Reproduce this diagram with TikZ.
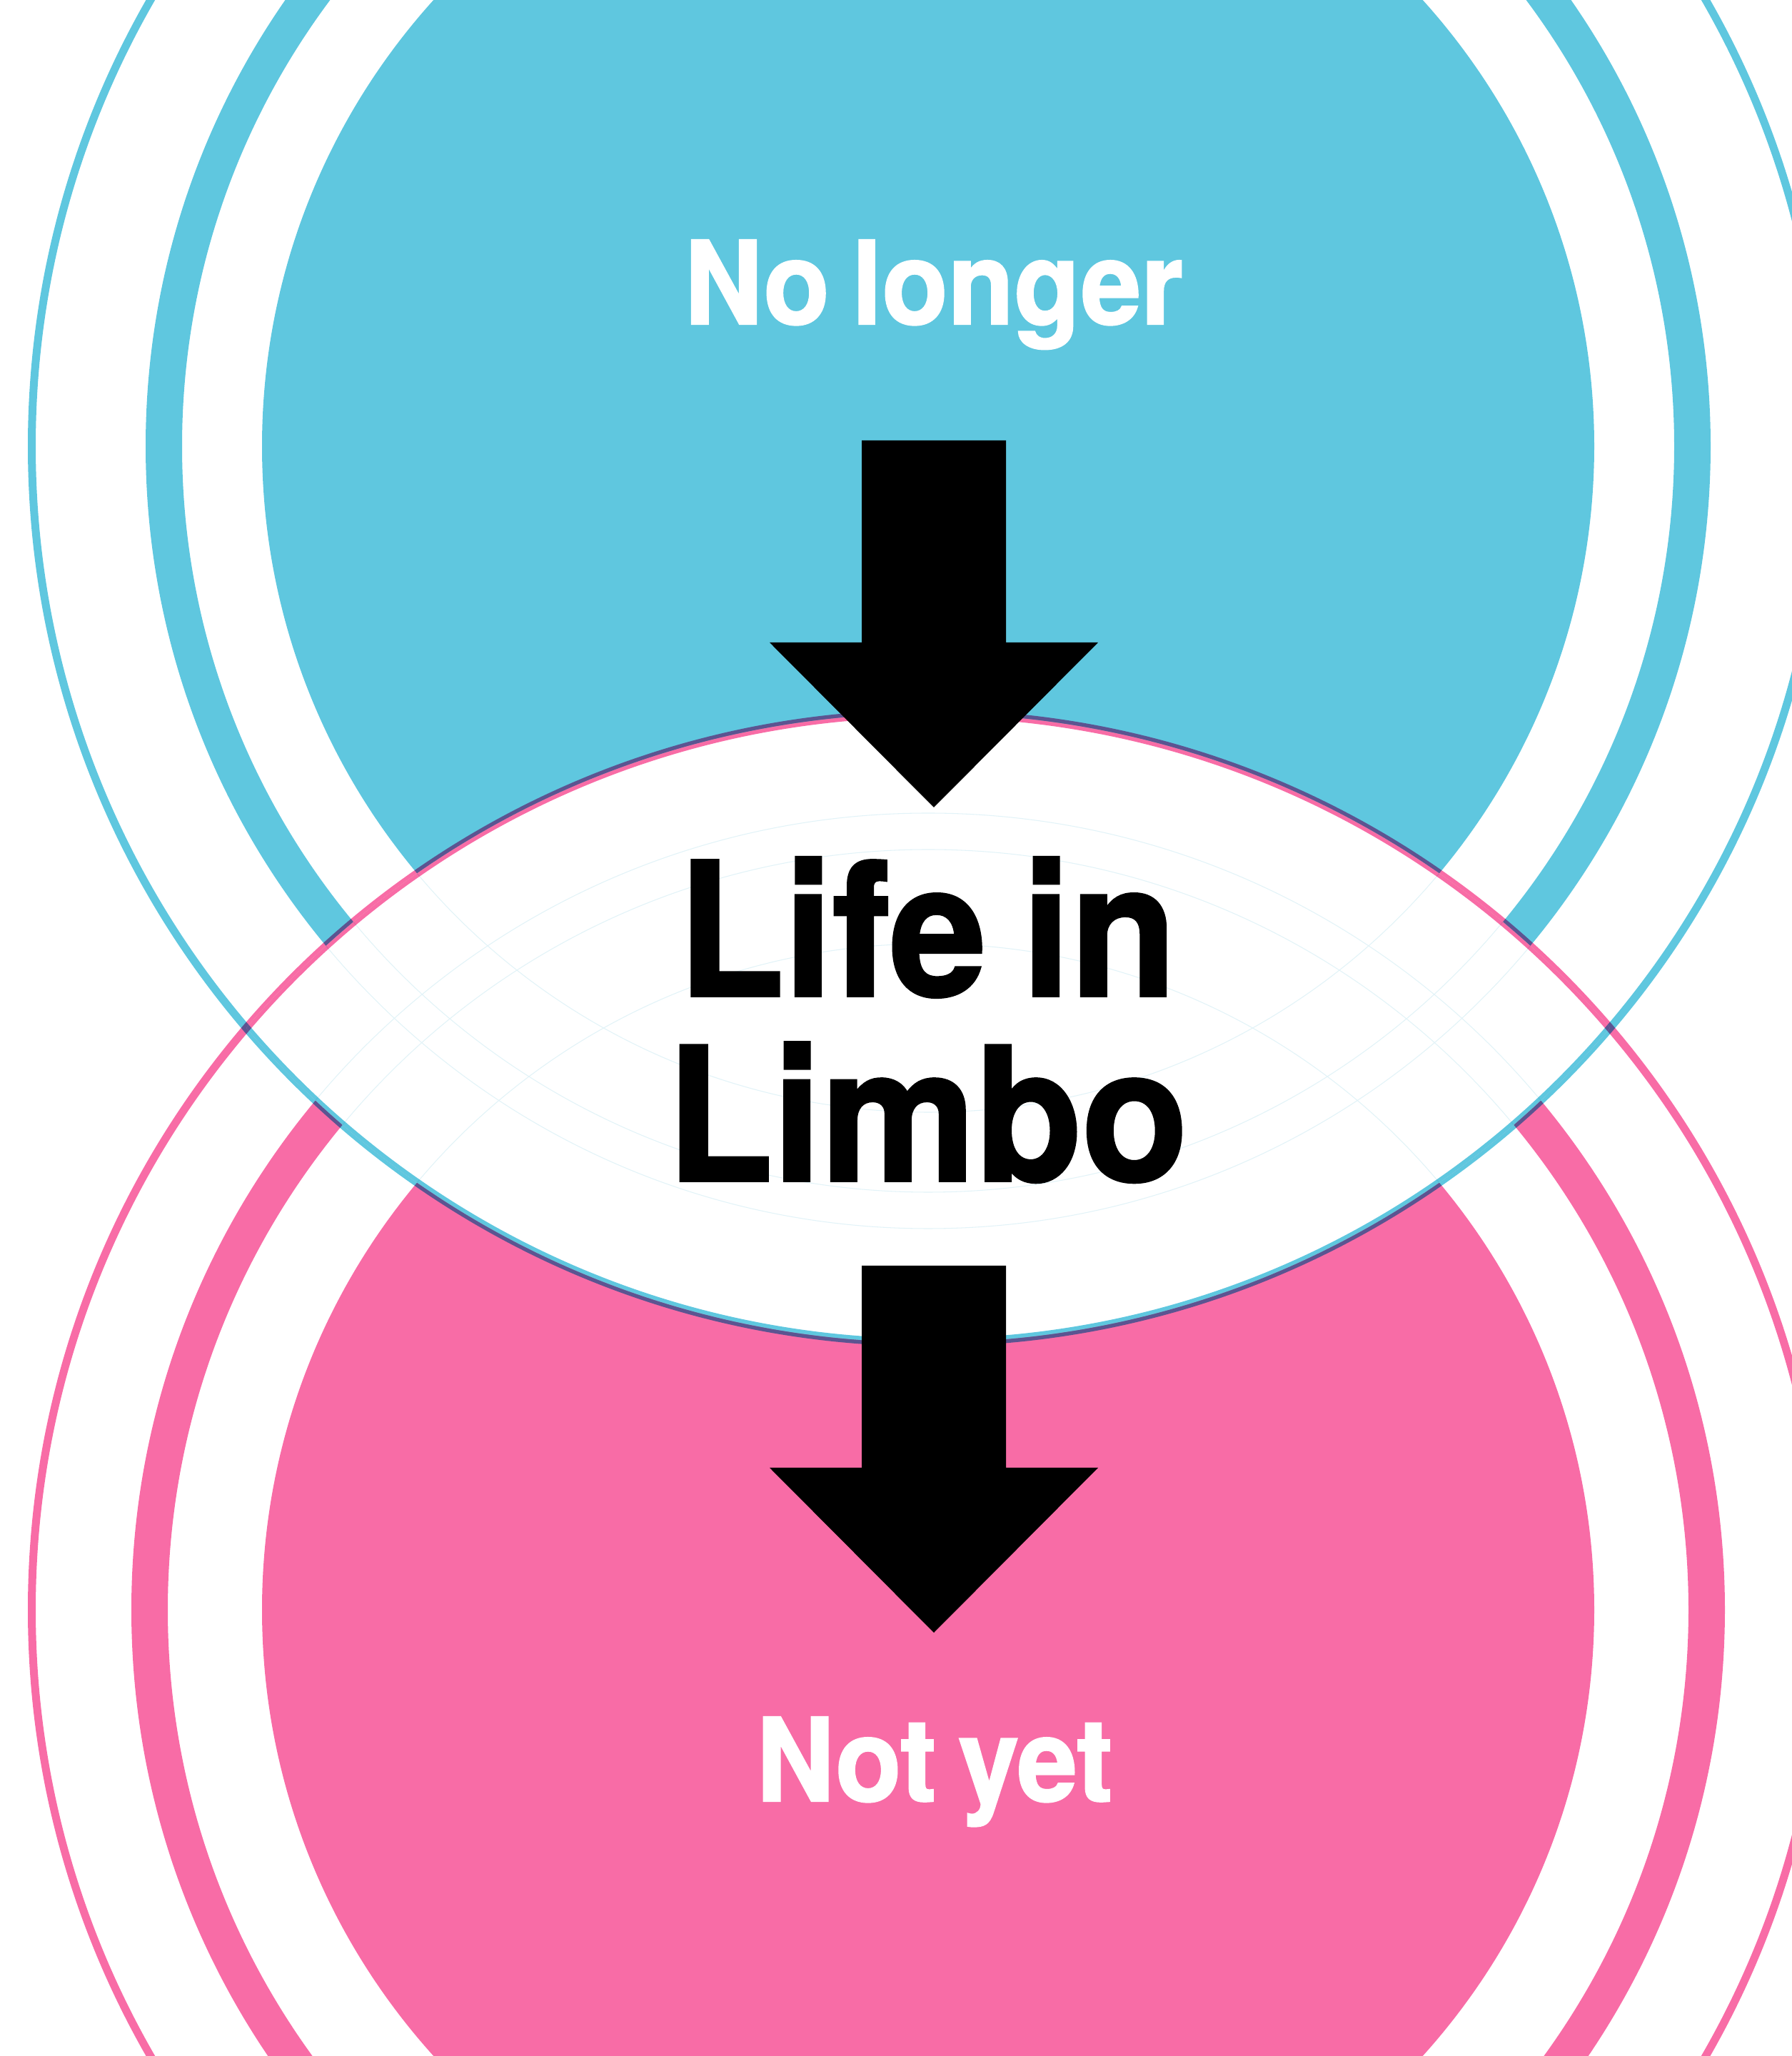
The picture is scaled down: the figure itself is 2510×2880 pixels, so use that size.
\documentclass[tikz,border=0pt]{standalone}
\usepackage{fontspec}
\newfontfamily\limbofont{texgyreheros-bold.otf}[FakeStretch=0.935, FakeBold=1.5, WordSpace=0.75]
\definecolor{nolongerblue}{RGB}{95,199,223}
\definecolor{notyetpink}{RGB}{248,108,166}
\definecolor{seam}{RGB}{226,243,248}

\begin{document}
\begin{tikzpicture}[
    x=0.01cm, y=0.01cm,
    blueset/.style={fill=nolongerblue, even odd rule},
    pinkset/.style={fill=notyetpink, even odd rule},
    seamline/.style={draw=seam, line width=0.3pt},
    label/.style={font=\limbofont\fontsize{46}{46}\selectfont, text=white,
                  anchor=base, inner sep=0pt}
  ]
  \useasboundingbox (0,0) rectangle (2510,2880);
  \clip (0,0) rectangle (2510,2880);
  \coordinate (top) at (1300,2255);
  \coordinate (bot) at (1300,625);

  % no longer: disc, thick ring, thin ring
  \fill[blueset] (top) circle[radius=933] circle[radius=1045] circle[radius=1096]
    circle[radius=1250] circle[radius=1261];
  % not yet, multiplied over the blue
  \begin{scope}[blend mode=multiply]
    \fill[pinkset] (bot) circle[radius=933] circle[radius=1065] circle[radius=1116]
      circle[radius=1250] circle[radius=1261];
  \end{scope}

  % the lens in between
  \begin{scope}
    \clip (top) circle[radius=1255.5];
    \clip (bot) circle[radius=1255.5];
    \fill[white] (0,0) rectangle (2510,2880);
    \path[seamline] (top) circle[radius=933] circle[radius=1045] circle[radius=1096];
    \path[seamline] (bot) circle[radius=933] circle[radius=1065] circle[radius=1116];
    \begin{scope}[blend mode=multiply]
      \fill[blueset] (top) circle[radius=1250] circle[radius=1261];
      \fill[pinkset] (bot) circle[radius=1250] circle[radius=1261];
    \end{scope}
  \end{scope}

  \coordinate (a1) at (1308,2263);
  \coordinate (a2) at (1308,1107);
  \foreach \a in {a1,a2}
    \fill (\a) ++(-101,0) -- ++(202,0) -- ++(0,-283) -- ++(129,0)
      -- ++(-230,-231) -- ++(-230,231) -- ++(129,0) -- cycle;

  \node[label] (nolonger) at (1308,2426) {No longer};
  \node[label] (notyet) at (1309,357) {Not yet};
  \node[label, text=black, align=center,
        font=\limbofont\fontsize{74}{73.7}\selectfont] (limbo) at (1299,1226)
    {Life in\\Limbo};
\end{tikzpicture}
\end{document}
